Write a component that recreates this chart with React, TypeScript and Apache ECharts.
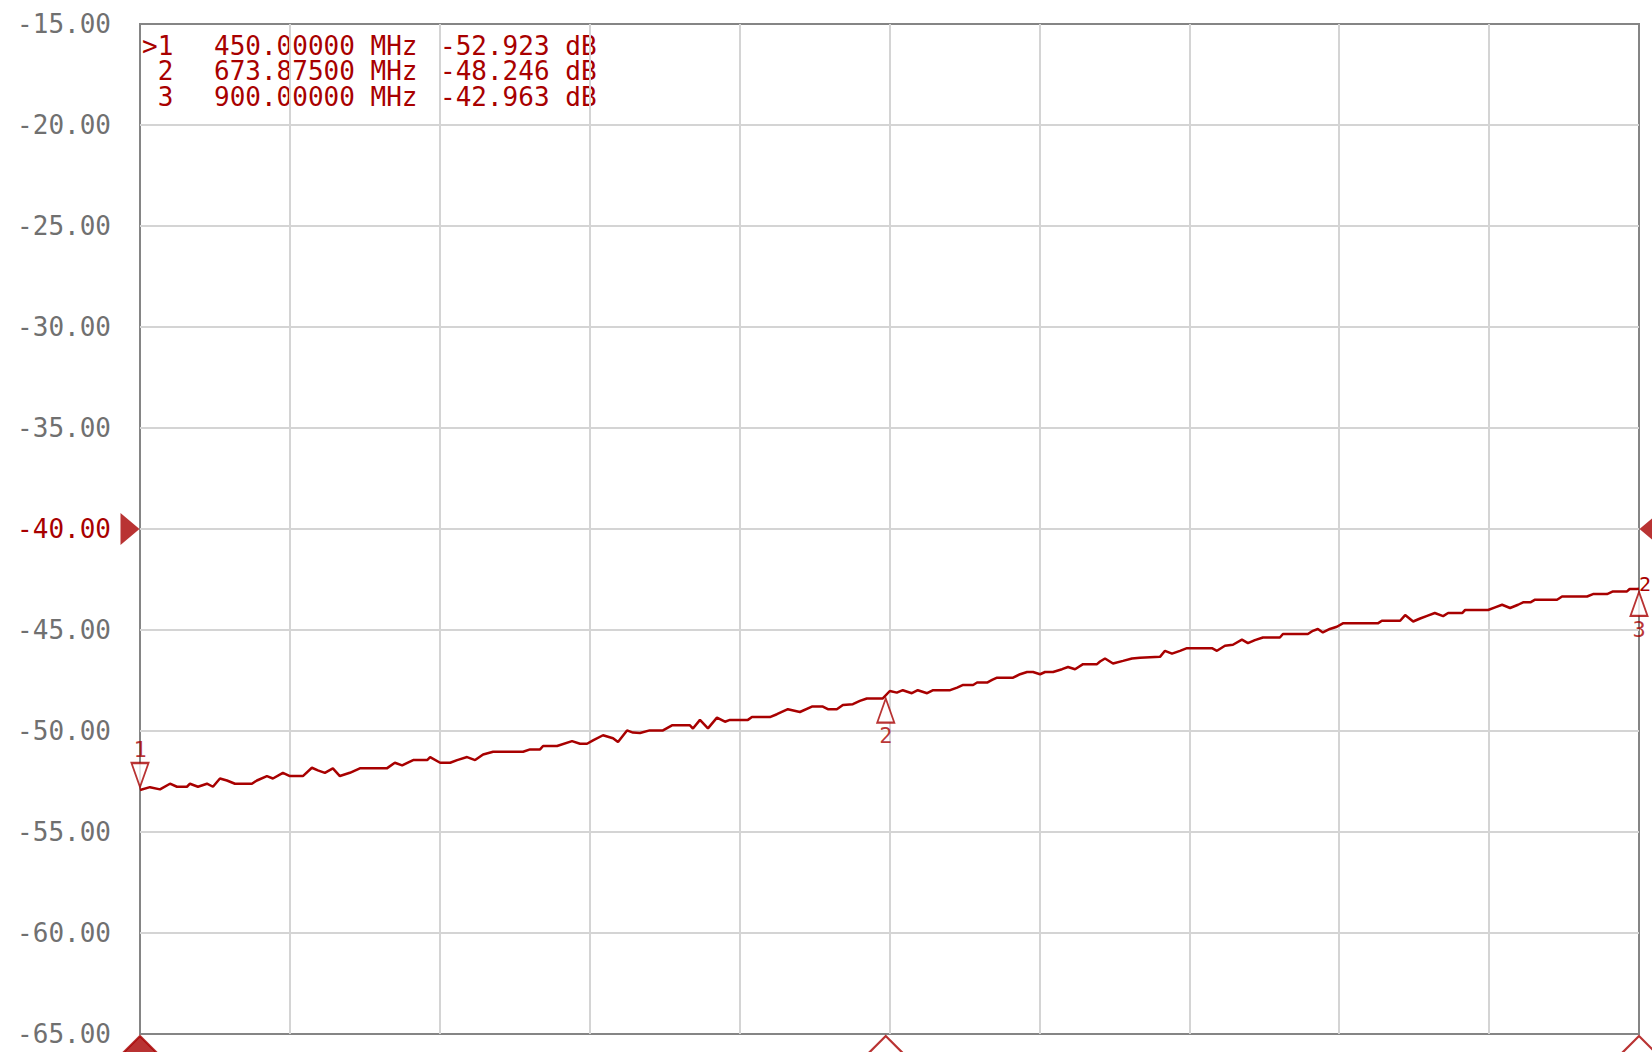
import React, { useEffect, useRef } from "react";
import * as echarts from "echarts";

const freqMHz = [450.0, 453.0, 456.0, 459.0, 461.1, 464.1, 465.0, 467.4, 470.1, 471.9, 474.0, 476.1, 478.5, 483.6, 485.1, 488.1, 489.9, 492.9, 495.0, 498.9, 501.6, 503.4, 505.5, 507.9, 510.0, 513.0, 516.0, 524.1, 526.5, 528.7, 532.0, 536.2, 537.1, 540.1, 543.1, 545.2, 548.2, 550.6, 553.0, 556.0, 565.0, 567.1, 570.1, 571.0, 575.2, 579.7, 582.1, 584.2, 586.0, 589.0, 592.0, 593.5, 596.2, 598.0, 600.1, 603.0, 607.0, 609.7, 615.1, 616.0, 618.1, 620.5, 623.2, 625.6, 627.1, 632.5, 633.7, 639.1, 641.2, 644.5, 648.1, 651.7, 655.0, 656.5, 659.2, 661.0, 664.0, 666.1, 668.2, 673.0, 675.1, 677.2, 679.0, 681.7, 683.5, 686.3, 688.1, 693.2, 695.3, 697.1, 700.1, 701.3, 704.3, 705.8, 707.3, 712.1, 714.2, 716.3, 718.1, 720.2, 721.7, 724.1, 726.8, 728.6, 730.7, 733.1, 737.3, 738.2, 739.7, 742.1, 745.1, 747.8, 750.2, 756.2, 757.7, 759.8, 762.2, 764.3, 771.8, 773.3, 775.7, 778.1, 780.8, 782.6, 784.7, 787.1, 792.2, 793.1, 800.6, 802.1, 803.6, 805.1, 807.2, 809.3, 811.1, 821.6, 822.8, 828.3, 829.8, 832.2, 834.3, 836.4, 838.7, 841.2, 842.7, 846.9, 847.8, 854.7, 856.8, 858.9, 861.3, 863.7, 865.2, 867.4, 868.8, 875.4, 876.9, 884.4, 886.2, 890.4, 892.2, 896.4, 897.2, 899.3, 900.0];

const levelDb = [-52.92, -52.78, -52.89, -52.61, -52.76, -52.76, -52.61, -52.76, -52.61, -52.76, -52.35, -52.45, -52.61, -52.61, -52.45, -52.23, -52.35, -52.07, -52.23, -52.23, -51.82, -51.95, -52.07, -51.85, -52.23, -52.07, -51.85, -51.85, -51.57, -51.70, -51.44, -51.44, -51.29, -51.57, -51.57, -51.44, -51.29, -51.44, -51.16, -51.03, -51.03, -50.91, -50.91, -50.74, -50.74, -50.50, -50.63, -50.63, -50.46, -50.21, -50.36, -50.55, -49.97, -50.08, -50.10, -49.97, -49.97, -49.72, -49.72, -49.88, -49.45, -49.87, -49.34, -49.54, -49.45, -49.45, -49.31, -49.31, -49.17, -48.92, -49.06, -48.79, -48.79, -48.92, -48.92, -48.71, -48.67, -48.51, -48.39, -48.39, -48.02, -48.10, -47.98, -48.13, -47.98, -48.13, -47.98, -47.98, -47.85, -47.72, -47.72, -47.60, -47.60, -47.47, -47.36, -47.36, -47.19, -47.08, -47.08, -47.19, -47.08, -47.08, -46.94, -46.83, -46.94, -46.69, -46.69, -46.56, -46.41, -46.66, -46.53, -46.41, -46.37, -46.33, -46.03, -46.17, -46.03, -45.90, -45.90, -46.03, -45.78, -45.73, -45.48, -45.65, -45.50, -45.37, -45.37, -45.20, -45.20, -45.04, -44.95, -45.12, -44.95, -44.84, -44.67, -44.67, -44.54, -44.54, -44.26, -44.58, -44.43, -44.30, -44.16, -44.31, -44.16, -44.16, -44.01, -44.01, -43.88, -43.75, -43.91, -43.75, -43.63, -43.63, -43.50, -43.50, -43.34, -43.34, -43.22, -43.22, -43.09, -43.09, -42.97, -42.97, -42.96];

const markerIds = ["1", "2", "3"];
const markerFreqs = [450.0, 673.875, 900.0];
const markerLevels = [-52.923, -48.246, -42.963];
const activeMarker = 0;

const xMin = 450;
const xMax = 900;
const yMin = -65;
const yMax = -15;
const yStep = 5;
const refLevel = -40;

const RED = "#a80000";
const GRAY = "#707070";
const MONO = '"DejaVu Sans Mono", monospace';

const UP = "path://M5,0 L10,10 L0,10 Z";
const DOWN = "path://M0,0 L10,0 L5,10 Z";
const RIGHT = "path://M0,0 L10,5 L0,10 Z";
const LEFT = "path://M10,0 L0,5 L10,10 Z";

export default function App() {
  const ref = useRef<HTMLDivElement>(null);
  useEffect(() => {
    if (!ref.current) return;
    const chart = echarts.init(ref.current, undefined, { renderer: "svg" });

    const trace = freqMHz.map((f, i) => [f, levelDb[i]]);

    const markerSeries = markerFreqs.map((f, i) => {
      const down = i === 0;
      return {
        type: "scatter",
        name: "marker" + markerIds[i],
        data: [{ name: markerIds[i], value: [f, markerLevels[i]] }],
        symbol: down ? DOWN : UP,
        symbolSize: [17, 24],
        symbolOffset: down ? [0, -15] : [0, 15],
        z: 4,
        itemStyle: { color: "#ffffff", borderColor: RED, borderWidth: 2 },
        label: {
          show: true,
          position: down ? "top" : "bottom",
          distance: 1,
          formatter: (p: any) => p.name,
          color: RED,
          fontFamily: MONO,
          fontSize: 22,
        },
      };
    });

    const axisMarkers = markerFreqs.map((f, i) => ({
      value: [f, yMin],
      itemStyle: i === activeMarker ? { color: RED, borderColor: RED } : { color: "#ffffff", borderColor: RED },
    }));

    const font = `26px ${MONO}`;
    const rowH = 25.5;
    const colIds = markerIds.map((id, i) => (i === activeMarker ? ">" : " ") + id).join("\n");
    const colFreqs = markerFreqs.map((f) => f.toFixed(5) + " MHz").join("\n");
    const colLevels = markerLevels.map((l) => l.toFixed(3) + " dB").join("\n");
    const readoutTexts: any[] = [
      { type: "text", x: 142, y: 33, style: { text: colIds, fill: RED, font, lineHeight: rowH } },
      { type: "text", x: 214, y: 33, style: { text: colFreqs, fill: RED, font, lineHeight: rowH } },
      { type: "text", x: 440, y: 33, style: { text: colLevels, fill: RED, font, lineHeight: rowH } },
      { type: "text", x: 1639, y: 574, style: { text: "2", fill: RED, font: `20px ${MONO}` } },
    ];

    chart.setOption({
      animation: false,
      backgroundColor: "#ffffff",
      grid: {
        left: 140,
        right: 13,
        top: 24,
        bottom: 18,
        show: true,
        borderColor: "#858585",
        borderWidth: 2,
        backgroundColor: "#ffffff",
      },
      xAxis: {
        type: "value",
        min: xMin,
        max: xMax,
        interval: (xMax - xMin) / 10,
        axisLine: { show: false },
        axisTick: { show: false },
        axisLabel: { show: false },
        splitLine: { show: true, showMinLine: false, showMaxLine: false, lineStyle: { color: "#d4d4d4", width: 2 } },
      },
      yAxis: {
        type: "value",
        min: yMin,
        max: yMax,
        interval: yStep,
        axisLine: { show: false },
        axisTick: { show: false },
        axisLabel: {
          margin: 29,
          fontFamily: MONO,
          fontSize: 26,
          formatter: (v: number) => Number(v).toFixed(2),
          color: (v: any) => (Number(v) === refLevel ? RED : GRAY),
        },
        splitLine: { show: true, showMinLine: false, showMaxLine: false, lineStyle: { color: "#d4d4d4", width: 2 } },
      },
      graphic: readoutTexts,
      series: [
        {
          type: "line",
          data: trace,
          showSymbol: false,
          symbol: "none",
          lineStyle: { color: RED, width: 2.5 },
          z: 3,
        },
        ...markerSeries,
        {
          type: "scatter",
          data: axisMarkers,
          symbol: UP,
          symbolSize: [36, 18],
          symbolOffset: [0, 11],
          itemStyle: { borderWidth: 2 },
          z: 5,
        },
        {
          type: "scatter",
          data: [[xMin, refLevel]],
          symbol: RIGHT,
          symbolSize: [19, 32],
          symbolOffset: [-10, 0],
          itemStyle: { color: RED, borderWidth: 0 },
          z: 5,
        },
        {
          type: "scatter",
          data: [[xMax, refLevel]],
          symbol: LEFT,
          symbolSize: [19, 32],
          symbolOffset: [10, 0],
          itemStyle: { color: RED, borderWidth: 0 },
          z: 5,
        },
      ],
    });
    return () => chart.dispose();
  }, []);
  return (
    <div
      ref={ref}
      style={{ position: "absolute", left: 0, top: 0, width: 1652, height: 1052, background: "#fff" }}
    />
  );
}
